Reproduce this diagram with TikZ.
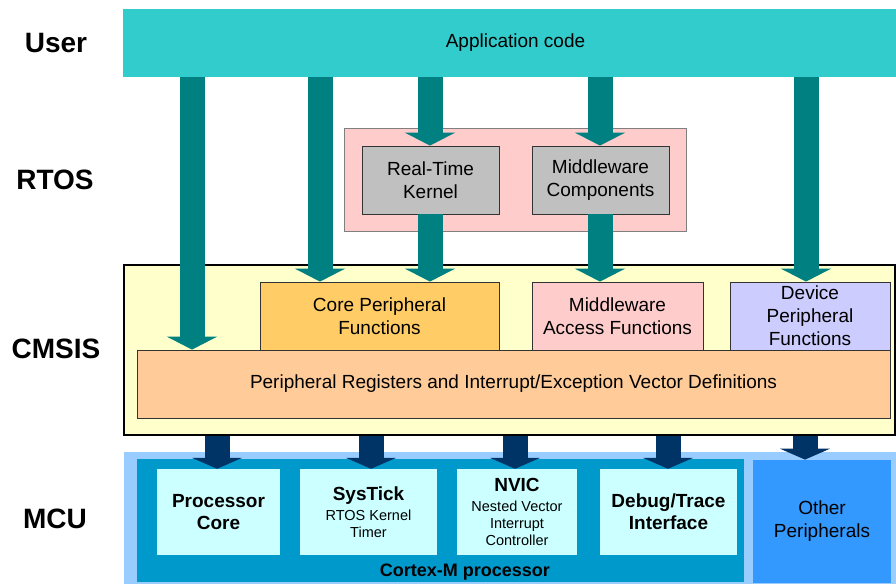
\documentclass[tikz,border=0pt]{standalone}
\usepackage{fontspec}
\setmainfont{Liberation Sans}
\usepackage{xcolor}
\usetikzlibrary{arrows.meta}

\definecolor{appcyan}{HTML}{33CCCC}
\definecolor{flowteal}{HTML}{008080}
\definecolor{rtospink}{HTML}{FFCCCC}
\definecolor{kernelgray}{HTML}{C0C0C0}
\definecolor{cmsisyellow}{HTML}{FFFFCC}
\definecolor{coreorange}{HTML}{FFCC66}
\definecolor{devlilac}{HTML}{CCCCFF}
\definecolor{regpeach}{HTML}{FFCC99}
\definecolor{mcublue}{HTML}{99CCFF}
\definecolor{cortexblue}{HTML}{0099CC}
\definecolor{otherblue}{HTML}{3399FF}
\definecolor{chipcyan}{HTML}{CCFFFF}
\definecolor{busnavy}{HTML}{003366}

\newcommand{\smalltxt}{\mdseries\fontsize{14.5}{17}\selectfont}

\tikzset{
	layer/.style={font=\fontsize{28}{32}\selectfont\bfseries, inner sep=0pt},
	block/.style={draw=black!80, line width=0.8pt, inner sep=0pt, align=center, font=\fontsize{19}{23}\selectfont},
	chip/.style={fill=chipcyan, inner sep=0pt, align=center, minimum width=137pt, minimum height=86pt, font=\fontsize{19}{22}\selectfont\bfseries},
	flow/.style={draw=flowteal, line width=25pt, -{Triangle[width=50pt, length=13pt]}},
	busflow/.style={draw=busnavy, line width=25pt, -{Triangle[width=50pt, length=11pt]}},
}

\begin{document}
\begin{tikzpicture}[x=1pt, y=-1pt]
		\useasboundingbox (0,0) rectangle (896,584);
		\clip (0,0) rectangle (896,584);
	
		\node [layer] (user) at (56,43) {User};
		\node [layer] (rtoslayer) at (55,180) {RTOS};
		\node [layer] (cmsislayer) at (56,349) {CMSIS};
		\node [layer] (mculayer) at (55,519) {MCU};
	
		\node [block, draw=none, fill=appcyan, minimum width=785pt, minimum height=68pt] (app) at (515.5,43) {Application code};
	
		\node [block, draw=black!50, fill=rtospink, minimum width=342pt, minimum height=103pt] (rtos) at (515,179.5) {};
		\node [block, fill=kernelgray, minimum width=137pt, minimum height=68pt] (kernel) at (430.5,180) {Real-Time\\Kernel};
		\node [block, fill=kernelgray, minimum width=137pt, minimum height=68pt] (mwcomp) at (600.5,180) {Middleware\\Components};
	
		\node [block, draw=black, line width=2pt, fill=cmsisyellow, minimum width=771pt, minimum height=170pt] (cmsis) at (509.5,350) {};
		\node [block, fill=coreorange, minimum width=239pt, minimum height=68pt] (corefn) at (379.5,316) {Core Peripheral\\Functions};
		\node [block, fill=rtospink, minimum width=171pt, minimum height=68pt] (mwacc) at (617.5,316) {Middleware\\Access Functions};
		\node [block, fill=devlilac, minimum width=160pt, minimum height=68pt] (devfn) at (810,316) {Device\\Peripheral\\Functions};
		\node [block, fill=regpeach, minimum width=753pt, minimum height=68pt] (regs) at (513.5,384) {Peripheral Registers and Interrupt/Exception Vector Definitions};
	
		\node [fill=mcublue, minimum width=772pt, minimum height=132pt] (mcu) at (510,518) {};
		\node [fill=cortexblue, minimum width=607pt, minimum height=123pt] (cortex) at (440.5,520.5) {};
		\node [block, draw=none, fill=otherblue, minimum width=138pt, minimum height=123pt] (other) at (822,521.5) {Other\\Peripherals};
		\node [font=\fontsize{18}{20}\selectfont\bfseries, inner sep=0pt] (cpu) at (465,572) {Cortex-M processor};
	
		\node [chip, minimum width=123pt] (core) at (218.5,512) {Processor\\Core};
		\node [chip] (systick) at (368.5,512) {SysTick\\[-2pt]\smalltxt RTOS Kernel\\[-5pt]\smalltxt Timer};
		\node [chip, minimum width=120pt] (nvic) at (517,512) {NVIC\\[-2pt]\smalltxt Nested Vector\\[-5pt]\smalltxt Interrupt\\[-5pt]\smalltxt Controller};
		\node [chip] (debug) at (668.5,512) {Debug/Trace\\Interface};
	
		\coordinate (a1) at (192,0);
		\coordinate (a2) at (320,0);
		\coordinate (a3) at (430,0);
		\coordinate (a4) at (600,0);
		\coordinate (a5) at (806,0);
	
		\draw [flow] (app.south -| a1) -- (regs.north -| a1);
		\draw [flow] (app.south -| a2) -- (corefn.north -| a2);
		\draw [flow] (app.south -| a3) -- (kernel.north -| a3);
		\draw [flow] (app.south -| a4) -- (mwcomp.north -| a4);
		\draw [flow] (app.south -| a5) -- (devfn.north -| a5);
		\draw [flow] (kernel.south -| a3) -- (corefn.north -| a3);
		\draw [flow] (mwcomp.south -| a4) -- (mwacc.north -| a4);
	
		\coordinate (b1) at (217,0);
		\coordinate (b2) at (371,0);
		\coordinate (b3) at (515,0);
		\coordinate (b4) at (668,0);
		\coordinate (b5) at (805,0);
	
		\draw [busflow] (cmsis.south -| b1) -- (core.north -| b1);
		\draw [busflow] (cmsis.south -| b2) -- (systick.north -| b2);
		\draw [busflow] (cmsis.south -| b3) -- (nvic.north -| b3);
		\draw [busflow] (cmsis.south -| b4) -- (debug.north -| b4);
		\draw [busflow] (cmsis.south -| b5) -- (other.north -| b5);
	
	\end{tikzpicture}
\end{document}
